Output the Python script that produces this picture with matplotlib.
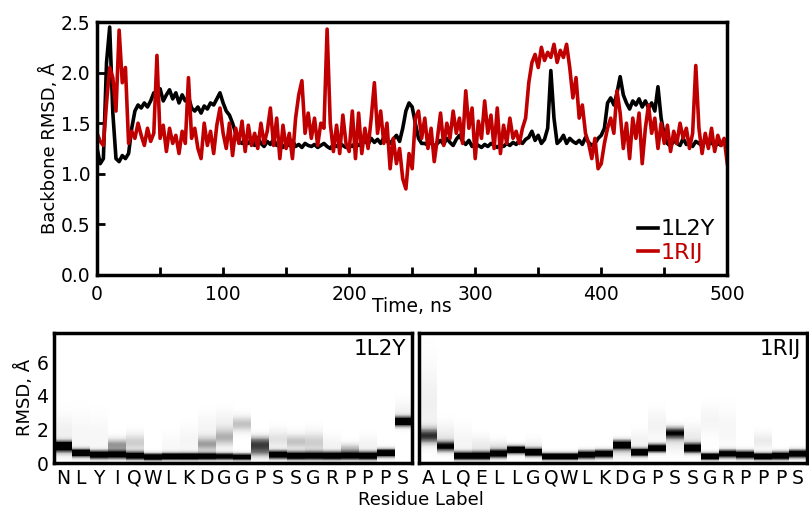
import numpy as np
import matplotlib
matplotlib.use("Agg")
from matplotlib import pyplot as plt
from matplotlib.ticker import MultipleLocator, FormatStrFormatter

# backbone RMSD time series, one value every 2.5 ns
time_ns = np.arange(0, 500.1, 2.5)

rmsd_1l2y = [
    1.25, 1.10, 1.15, 2.10, 2.45, 1.60, 1.15, 1.12, 1.18, 1.15,
    1.20, 1.45, 1.62, 1.68, 1.65, 1.70, 1.66, 1.72, 1.80, 1.75,
    1.84, 1.72, 1.78, 1.83, 1.74, 1.80, 1.70, 1.78, 1.72, 1.76,
    1.65, 1.62, 1.66, 1.60, 1.67, 1.64, 1.70, 1.68, 1.74, 1.80,
    1.70, 1.62, 1.58, 1.50, 1.40, 1.32, 1.30, 1.35, 1.30, 1.33,
    1.28, 1.36, 1.30, 1.27, 1.32, 1.29, 1.34, 1.28, 1.31, 1.26,
    1.30, 1.28, 1.33, 1.27, 1.29, 1.26, 1.30, 1.28, 1.27, 1.29,
    1.26, 1.28, 1.30, 1.27, 1.25, 1.29, 1.27, 1.30, 1.28, 1.26,
    1.29, 1.27, 1.31, 1.28, 1.30, 1.33, 1.29, 1.35, 1.31, 1.34,
    1.30, 1.36, 1.32, 1.30, 1.34, 1.38, 1.32, 1.45, 1.62, 1.70,
    1.66, 1.50, 1.35, 1.30, 1.30, 1.28, 1.32, 1.27, 1.30, 1.33,
    1.29, 1.35, 1.31, 1.28, 1.34, 1.38, 1.32, 1.29, 1.33, 1.27,
    1.30, 1.28, 1.26, 1.29, 1.27, 1.30, 1.28, 1.26, 1.29, 1.27,
    1.30, 1.28, 1.31, 1.29, 1.33, 1.30, 1.34, 1.36, 1.42, 1.33,
    1.38, 1.30, 1.34, 1.45, 2.02, 1.55, 1.30, 1.33, 1.38, 1.30,
    1.35, 1.32, 1.30, 1.33, 1.29, 1.36, 1.31, 1.28, 1.30, 1.35,
    1.38, 1.45, 1.70, 1.75, 1.68, 1.80, 1.96, 1.78, 1.70, 1.64,
    1.72, 1.68, 1.74, 1.66, 1.72, 1.65, 1.70, 1.62, 1.86, 1.55,
    1.38, 1.30, 1.27, 1.33, 1.30, 1.28, 1.35, 1.29, 1.31, 1.27,
    1.32, 1.30, 1.28, 1.33, 1.29, 1.31, 1.27, 1.30, 1.28, 1.32,
    1.30,
]

rmsd_1rij = [
    1.40, 1.32, 1.28, 1.70, 2.05, 1.95, 1.62, 2.42, 1.90, 2.05,
    1.30, 1.42, 1.35, 1.50, 1.38, 1.28, 1.45, 1.32, 1.40, 2.17,
    1.35, 1.48, 1.22, 1.45, 1.30, 1.38, 1.20, 1.42, 1.30, 1.95,
    1.35, 1.45, 1.25, 1.15, 1.50, 1.28, 1.42, 1.20, 1.48, 1.65,
    1.40, 1.25, 1.50, 1.18, 1.45, 1.30, 1.52, 1.22, 1.48, 1.28,
    1.40, 1.25, 1.50, 1.30, 1.42, 1.65, 1.28, 1.55, 1.15, 1.48,
    1.25, 1.40, 1.15, 1.55, 1.78, 1.92, 1.40, 1.60, 1.35, 1.55,
    1.28, 1.50, 1.45, 2.43, 1.50, 1.22, 1.48, 1.20, 1.58, 1.30,
    1.22, 1.62, 1.15, 1.60, 1.20, 1.45, 1.25, 1.55, 1.90, 1.40,
    1.62, 1.30, 1.50, 1.05, 1.35, 1.10, 1.25, 0.95, 0.85, 1.20,
    1.05, 1.55, 1.62, 1.35, 1.55, 1.25, 1.45, 1.12, 1.35, 1.60,
    1.28, 1.50, 1.35, 1.62, 1.40, 1.55, 1.30, 1.82, 1.45, 1.65,
    1.15, 1.52, 1.35, 1.72, 1.40, 1.58, 1.25, 1.65, 1.20, 1.48,
    1.30, 1.55, 1.35, 1.42, 1.30, 1.45, 1.55, 1.90, 2.10, 2.18,
    2.05, 2.25, 2.12, 2.20, 2.15, 2.28, 2.10, 2.22, 2.15, 2.28,
    2.05, 1.75, 1.95, 1.55, 1.68, 1.40, 1.30, 1.15, 1.35, 1.05,
    1.10, 1.30, 1.45, 1.55, 1.40, 1.82, 1.60, 1.25, 1.50, 1.15,
    1.55, 1.35, 1.60, 1.10, 1.45, 1.68, 1.40, 1.55, 1.25, 1.50,
    1.30, 1.48, 1.22, 1.42, 1.30, 1.50, 1.35, 1.45, 1.25, 1.40,
    2.07, 1.45, 1.20, 1.40, 1.25, 1.45, 1.22, 1.38, 1.28, 1.35,
    1.10,
]

# per-residue RMSD distributions: (centre, width, darkness) bands
res_1l2y = list("NLYIQWLKDGGPSSGRPPPS")
bands_1l2y = [
    [(1.00, 0.20, 1.4), (0.70, 0.25, 0.25), (1.8, 0.7, 0.12)],
    [(0.58, 0.17, 1.4), (1.6, 0.9, 0.07)],
    [(0.48, 0.17, 1.4), (1.5, 0.8, 0.07)],
    [(0.48, 0.17, 1.3), (1.05, 0.28, 0.5)],
    [(0.42, 0.17, 1.3), (1.2, 0.38, 0.3)],
    [(0.35, 0.15, 1.4)],
    [(0.38, 0.15, 1.4), (1.0, 0.5, 0.05)],
    [(0.38, 0.15, 1.4), (1.2, 0.6, 0.08)],
    [(0.38, 0.15, 1.3), (1.1, 0.32, 0.45), (2.0, 0.6, 0.08)],
    [(0.38, 0.15, 1.2), (1.5, 0.38, 0.4), (2.4, 0.5, 0.1)],
    [(0.35, 0.15, 1.2), (2.3, 0.33, 0.35)],
    [(0.70, 0.28, 0.55), (1.2, 0.28, 0.65)],
    [(0.48, 0.17, 1.4), (1.4, 0.4, 0.2)],
    [(0.42, 0.17, 1.4), (1.25, 0.33, 0.35)],
    [(0.42, 0.17, 1.3), (1.2, 0.45, 0.3)],
    [(0.42, 0.17, 1.4), (1.0, 0.4, 0.1)],
    [(0.42, 0.17, 1.3), (0.85, 0.22, 0.35)],
    [(0.42, 0.17, 1.4), (1.0, 0.4, 0.1)],
    [(0.58, 0.17, 1.4)],
    [(2.45, 0.20, 1.4), (3.0, 0.45, 0.1)],
]

res_1rij = list("ALQELLGQWLKDGPSSGRPPPS")
bands_1rij = [
    [(1.60, 0.33, 0.8), (3.5, 1.5, 0.12)],
    [(0.97, 0.22, 1.0), (1.6, 0.5, 0.15)],
    [(0.42, 0.17, 1.4), (1.2, 0.6, 0.08)],
    [(0.42, 0.17, 1.4), (1.0, 0.4, 0.15)],
    [(0.53, 0.17, 1.3), (0.9, 0.3, 0.2)],
    [(0.77, 0.17, 1.4)],
    [(0.62, 0.17, 1.4), (1.0, 0.3, 0.1)],
    [(0.38, 0.15, 1.4)],
    [(0.38, 0.15, 1.4)],
    [(0.48, 0.17, 1.4)],
    [(0.53, 0.17, 1.4)],
    [(1.07, 0.20, 1.2), (0.7, 0.3, 0.2)],
    [(0.62, 0.17, 1.4), (1.3, 0.4, 0.1)],
    [(0.87, 0.17, 1.4), (2.2, 0.6, 0.1)],
    [(1.77, 0.25, 0.95), (1.2, 0.4, 0.15)],
    [(0.87, 0.20, 1.3), (1.5, 0.5, 0.15)],
    [(0.38, 0.15, 1.4), (2.5, 0.6, 0.08)],
    [(0.53, 0.17, 1.3), (2.0, 0.8, 0.07)],
    [(0.48, 0.17, 1.4)],
    [(0.38, 0.15, 1.4), (1.3, 0.35, 0.15)],
    [(0.42, 0.17, 1.4)],
    [(0.53, 0.17, 1.4)],
]

RED = "#c00000"
YMAX_HEAT = 7.75

plt.rcParams['font.family'] = ['DejaVu Sans']

fig = plt.figure(figsize=(8.09, 5.12), dpi=100)

# ---- top panel: RMSD vs time
ax = fig.add_axes([0.120, 0.463, 0.779, 0.494])
ax.plot(time_ns, rmsd_1l2y, color="black", lw=2.6, label="1L2Y")
ax.plot(time_ns, rmsd_1rij, color=RED, lw=2.6, label="1RIJ")
ax.set_xlim(0, 500)
ax.set_ylim(0, 2.5)
ax.xaxis.set_major_locator(MultipleLocator(100))
ax.xaxis.set_minor_locator(MultipleLocator(50))
ax.yaxis.set_major_locator(MultipleLocator(0.5))
ax.yaxis.set_major_formatter(FormatStrFormatter('%.1f'))
ax.tick_params(which="both", direction="in", width=2, length=6,
               labelsize=13.5, pad=5)
ax.tick_params(axis="x", which="both", pad=7)
for s in ax.spines.values():
    s.set_linewidth(2.5)
ax.set_xlabel("Time, ns", fontsize=13.5, labelpad=-5)
ax.set_ylabel("Backbone RMSD, Å", fontsize=13, labelpad=1)
ax.legend(loc="lower right", frameon=False, fontsize=16, handlelength=0.9,
          handletextpad=0.1, labelspacing=0.15, borderaxespad=0.15,
          labelcolor="linecolor")


def density(bands, ygrid):
    cols = []
    for res in bands:
        d = np.zeros_like(ygrid)
        for c, w, k in res:
            d += k * np.exp(-0.5 * ((ygrid - c) / w) ** 2)
        cols.append(np.clip(d, 0, 1))
    return np.array(cols).T


ygrid = np.linspace(0, YMAX_HEAT, 300)

panels = [
    ([0.0667, 0.0957, 0.4426, 0.2543], res_1l2y, bands_1l2y, "1L2Y"),
    ([0.5180, 0.0957, 0.4795, 0.2543], res_1rij, bands_1rij, "1RIJ"),
]
for i, (pos, labels, bands, name) in enumerate(panels):
    hx = fig.add_axes(pos)
    img = density(bands, ygrid)
    n = len(labels)
    hx.imshow(img, cmap="Greys", vmin=0, vmax=1, aspect="auto", origin="lower",
              extent=(-0.5, n - 0.5, 0, YMAX_HEAT), interpolation="nearest")
    hx.set_xlim(-0.5, n - 0.5)
    hx.set_ylim(0, YMAX_HEAT)
    hx.set_xticks(range(n))
    hx.set_xticklabels(labels)
    hx.tick_params(length=0, labelsize=13.5, pad=4)
    for s in hx.spines.values():
        s.set_linewidth(2.5)
    if i == 0:
        hx.set_yticks([0, 2, 4, 6])
        hx.set_ylabel("RMSD, Å", fontsize=13, labelpad=2)
    else:
        hx.set_yticks([])
    hx.text(0.985, 0.95, name, transform=hx.transAxes, ha="right", va="top",
            fontsize=15.5, bbox=dict(facecolor="white", edgecolor="none", pad=1))

fig.text(0.52, 0.023, "Residue Label", ha="center", va="center", fontsize=13)

fig.savefig("out.png", dpi=100)
